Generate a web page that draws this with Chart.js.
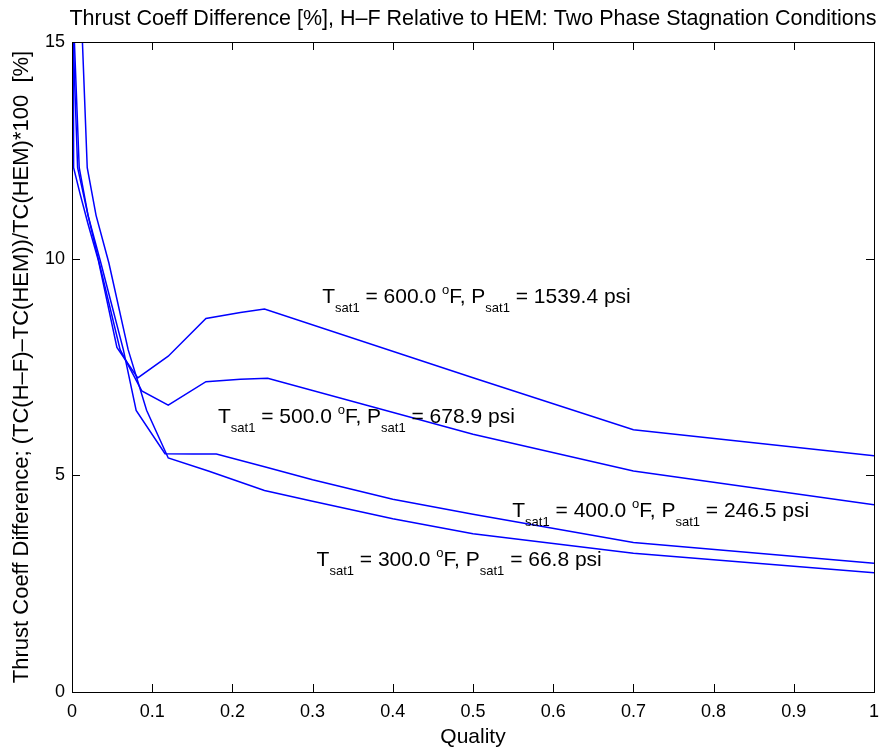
<!DOCTYPE html>
<html>
<head>
<meta charset="utf-8">
<script src="https://cdn.jsdelivr.net/npm/chart.js@4/dist/chart.umd.min.js"></script>
<style>
html, body { margin: 0; padding: 0; background: #fff; }
</style>
</head>
<body>
<canvas id="thrustChart" width="888" height="753"></canvas>
<script>
// Quality (x) and thrust coefficient difference [%] (y) for each saturation state
const quality600 = [0, 0.002, 0.01, 0.02, 0.033, 0.056, 0.082, 0.12, 0.167, 0.21, 0.24, 0.5, 0.7, 1.0];
const diff600    = [40, 12.1, 11.5, 10.8, 9.95, 7.95, 7.25, 7.75, 8.62, 8.76, 8.84, 7.25, 6.05, 5.45];

const quality500 = [0, 0.0016, 0.007, 0.02, 0.034, 0.06, 0.087, 0.12, 0.167, 0.21, 0.244, 0.5, 0.7, 1.0];
const diff500    = [60, 15, 12.1, 11.0, 9.9, 7.9, 6.95, 6.62, 7.16, 7.22, 7.24, 5.95, 5.1, 4.32];

const quality400 = [0, 0.003, 0.009, 0.02, 0.036, 0.064, 0.08, 0.116, 0.151, 0.18, 0.24, 0.3, 0.4, 0.5, 0.7, 1.0];
const diff400    = [60, 15, 12.1, 11.0, 9.9, 7.9, 6.5, 5.5, 5.49, 5.49, 5.2, 4.9, 4.45, 4.1, 3.45, 2.97];

const quality300 = [0, 0.013, 0.019, 0.03, 0.046, 0.07, 0.093, 0.12, 0.17, 0.24, 0.3, 0.4, 0.5, 0.7, 1.0];
const diff300    = [40, 15, 12.1, 11.0, 9.9, 7.9, 6.5, 5.4, 5.1, 4.65, 4.4, 4.0, 3.65, 3.2, 2.75];

// Curve labels
const satTemps = ['600.0', '500.0', '400.0', '300.0'];
const satPressures = ['1539.4', '678.9', '246.5', '66.8'];

const titleText = 'Thrust Coeff Difference [%], H\u2013F Relative to HEM: Two Phase Stagnation Conditions';
const yTitleText = 'Thrust Coeff Difference; (TC(H\u2013F)\u2013TC(HEM))/TC(HEM)*100  [%]';
const xTitleText = 'Quality';

const FONT = '"Liberation Sans", Arial, Helvetica, sans-serif';

function toPoints(xs, ys) {
    return xs.map((q, i) => ({ x: q, y: ys[i] }));
}

function lineSet(xs, ys) {
    return {
        data: toPoints(xs, ys),
        borderColor: '#0000ff',
        borderWidth: 1.5,
        pointRadius: 0,
        fill: false,
        tension: 0
    };
}

// Box, inward ticks, title and curve labels (MATLAB look)
const matlabFrame = {
    id: 'matlabFrame',
    afterDatasetsDraw(chart, args, opts) {
        const { ctx, chartArea: a, scales: { x, y } } = chart;
        ctx.save();
        ctx.strokeStyle = '#000';
        ctx.lineWidth = 1;
        ctx.strokeRect(a.left + 0.5, a.top + 0.5, a.right - a.left, a.bottom - a.top);

        const tl = 8;
        ctx.beginPath();
        x.ticks.forEach(t => {
            const px = Math.round(x.getPixelForValue(t.value)) + 0.5;
            ctx.moveTo(px, a.bottom); ctx.lineTo(px, a.bottom - tl);
            ctx.moveTo(px, a.top); ctx.lineTo(px, a.top + tl);
        });
        y.ticks.forEach(t => {
            const py = Math.round(y.getPixelForValue(t.value)) + 0.5;
            ctx.moveTo(a.left, py); ctx.lineTo(a.left + tl, py);
            ctx.moveTo(a.right, py); ctx.lineTo(a.right - tl, py);
        });
        ctx.stroke();

        // title
        ctx.fillStyle = '#000';
        ctx.font = '21.5px ' + FONT;
        ctx.textAlign = 'center';
        ctx.textBaseline = 'middle';
        ctx.fillText(titleText, (a.left + a.right) / 2, 19);

        // curve labels
        ctx.textAlign = 'left';
        ctx.textBaseline = 'alphabetic';
        const big = '21px ' + FONT;
        const small = '13px ' + FONT;
        opts.anchors.forEach((anc, i) => {
            let px = x.getPixelForValue(anc[0]);
            const py = y.getPixelForValue(anc[1]);
            const parts = [
                ['T', 0, big],
                ['sat1', 9, small],
                [' = ' + satTemps[i] + ' ', 0, big],
                ['o', -9, small],
                ['F, P', 0, big],
                ['sat1', 9, small],
                [' = ' + satPressures[i] + ' psi', 0, big]
            ];
            parts.forEach(([txt, dy, f]) => {
                ctx.font = f;
                ctx.fillText(txt, px, py + dy);
                px += ctx.measureText(txt).width;
            });
        });
        ctx.restore();
    }
};

new Chart(document.getElementById('thrustChart'), {
    type: 'line',
    data: {
        datasets: [
            lineSet(quality600, diff600),
            lineSet(quality500, diff500),
            lineSet(quality400, diff400),
            lineSet(quality300, diff300)
        ]
    },
    options: {
        responsive: false,
        animation: false,
        layout: { padding: { top: 42, right: 12, bottom: 0, left: 0 } },
        plugins: {
            legend: { display: false },
            tooltip: { enabled: false },
            matlabFrame: {
                // label anchors in data coordinates (start of "T", baseline)
                anchors: [[0.312, 8.98], [0.182, 6.21], [0.549, 4.05], [0.305, 2.9]]
            }
        },
        scales: {
            x: {
                type: 'linear',
                min: 0,
                max: 1,
                grid: { display: false, drawTicks: false, tickLength: 0 },
                border: { display: false },
                ticks: {
                    stepSize: 0.1,
                    color: '#000',
                    padding: 9,
                    maxRotation: 0,
                    font: { family: FONT, size: 18 },
                    callback: (v) => String(+v.toFixed(1))
                },
                title: {
                    display: true,
                    text: xTitleText,
                    color: '#000',
                    padding: { top: 3, bottom: 3 },
                    font: { family: FONT, size: 21 }
                },
                afterFit(scale) { scale.height = 61; }
            },
            y: {
                type: 'linear',
                min: 0,
                max: 15,
                grid: { display: false, drawTicks: false, tickLength: 0 },
                border: { display: false },
                ticks: {
                    stepSize: 5,
                    color: '#000',
                    padding: 7,
                    font: { family: FONT, size: 18 }
                },
                title: {
                    display: true,
                    text: yTitleText,
                    color: '#000',
                    padding: { top: 9, bottom: 4 },
                    font: { family: FONT, size: 22 }
                },
                afterFit(scale) { scale.width = 72; }
            }
        }
    },
    plugins: [matlabFrame]
});
</script>
</body>
</html>
